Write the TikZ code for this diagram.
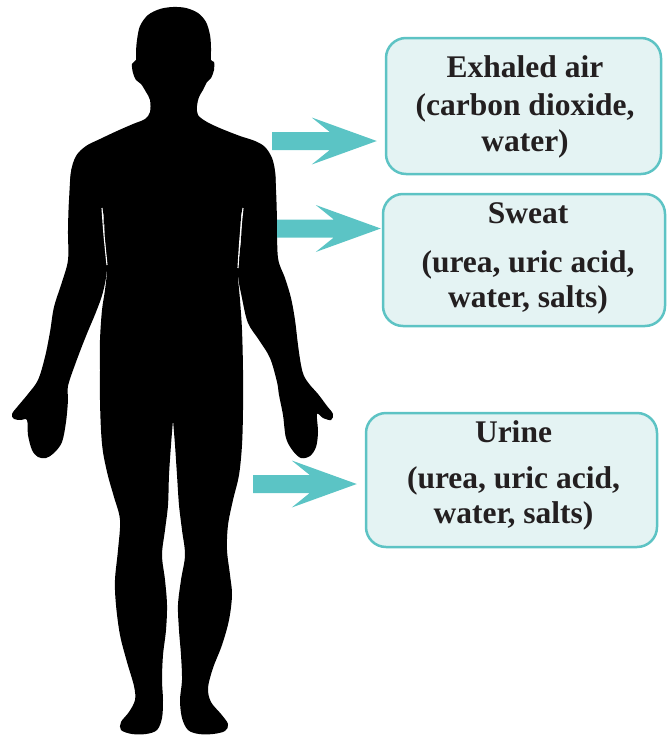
\documentclass[tikz,border=0pt]{standalone}
\usepackage{fontspec}
\setmainfont{Liberation Serif}
\usetikzlibrary{calc}
\definecolor{flowteal}{HTML}{5BC4C5}
\definecolor{boxfill}{HTML}{E4F3F3}
\definecolor{boxline}{HTML}{5DC3C4}
\definecolor{ink}{HTML}{231F20}

% wide flat arrow with swept-back barbs, from #1 to the tip #2
\newcommand\flowarrow[2]{%
  \fill[flow] ($(#1)+(0,-9)$) -- ($(#2)+(-47,-9)$) -- ($(#2)+(-65,-23.5)$)
    -- (#2) -- ($(#2)+(-65,23.5)$) -- ($(#2)+(-47,9)$) -- ($(#1)+(0,9)$) -- cycle;}

\begin{document}
\begin{tikzpicture}[x=1pt,y=-1pt,
  outbox/.style={draw=boxline, line width=2.5pt, fill=boxfill,
    rounded corners=20pt, inner sep=0pt},
  boxtext/.style={text=ink, font=\fontsize{31.5}{38}\selectfont\bfseries,
    anchor=base, inner sep=0pt},
  flow/.style={fill=flowteal},
  body/.style={fill=black},
  gap/.style={draw=white, line width=1.1pt}]
\useasboundingbox (0,0) rectangle (667,736);

% ---------- silhouette: head, shoulders, torso and legs ----------
\fill[body] plot[smooth, tension=0.55] coordinates {
 (173,420) (175,445) (177,475) (179,505) (182,530) (185,555) (181,580)
 (178,605) (179,630) (181,655) (182,680) (180,700) (182,718) (188,730)
 (199,734) (213,734) (225,731) (228,724) (221,714) (211,702) (208,688)
 (213,668) (222,645) (229,620) (232,595) (230,575) (227,550) (228,525)
 (233,500) (239,475) (242,445) (243,410) (243,370) (242,330) (240,300)
 (238,273) (240,240) (243,208) (260,200) (274,190) (275,172) (272,158)
 (265,147) (255,141) (240,136)
 (222,129) (207,122) (198,115) (197,106) (199,97) (203,90) (207,82)
 (211,78) (214,70) (214,62) (211,60) (211,48) (210,35) (206,22) (198,13)
 (186,8) (173,7) (160,9) (148,15) (140,26) (137,40) (136,52) (136,60)
 (132,64) (133,73) (136,80) (141,84) (146,92) (150,100) (150,112)
 (145,119) (133,124) (117,131) (100,139) (86,146) (76,156) (71,172)
 (72,190) (88,200)
 (102,208) (105,240) (107,268) (105,290) (102,310) (100,340) (100,370)
 (100,400) (101,430) (103,452) (108,476) (114,497) (120,520) (118,550)
 (115,580) (116,605) (120,635) (127,662) (134,686) (135,700) (129,712)
 (121,722) (121,730) (132,734) (146,734) (157,730) (162,718) (163,700)
 (162,680) (163,655) (166,630) (167,605) (165,580) (162,555) (165,530)
 (168,505) (169,475) (171,445) (173,420)} -- cycle;

% right arm and hand
\fill[body] plot[smooth cycle, tension=0.55] coordinates {
 (274,168) (276,190) (277,220) (278,258)
 (285,278) (291,298) (295,320) (298,345) (301,365) (304,376) (310,385)
 (318,394) (327,406) (333,414) (331,420) (323,418) (317,414) (318,432)
 (316,447) (310,456) (301,458) (293,451) (286,438) (283,415) (279,395)
 (277,382) (270,358) (259,340) (248,323) (242,298) (238,273) (241,240)
 (243,208) (252,182) (264,170)};

% left arm and hand
\fill[body] plot[smooth cycle, tension=0.55] coordinates {
 (82,170) (72,168) (69,200) (68,230) (68,260) (62,282)
 (54,307) (50,332) (45,357) (38,380) (28,394) (18,406) (12,414) (14,419)
 (21,420) (27,420) (28,435) (32,450) (38,457) (46,458) (54,453) (62,442)
 (66,422) (68,400) (68,386) (76,362) (86,336) (96,312) (103,292) (107,268)
 (105,240) (102,208) (95,182)};

% thin light seams between the arms and the torso
\draw[gap] plot[smooth] coordinates {(102,208) (104,235) (107,265)};
\draw[gap] plot[smooth] coordinates {(243,208) (240,238) (238,268)};

% ---------- output boxes ----------
\node[outbox, minimum width=275pt, minimum height=136pt] (air) at (523.5,106) {};
\node[outbox, minimum width=282pt, minimum height=132pt] (sweat) at (524,260) {};
\node[outbox, minimum width=291pt, minimum height=134pt] (urine) at (511.5,480) {};

\node[boxtext] (air1) at (525,77) {Exhaled air};
\node[boxtext] (air2) at (525,115) {(carbon dioxide,};
\node[boxtext] (air3) at (525,151) {water)};

\node[boxtext] (sweat1) at (528,223) {Sweat};
\node[boxtext] (sweat2) at (528,272) {(urea, uric acid,};
\node[boxtext] (sweat3) at (528,307) {water, salts)};

\node[boxtext] (urine1) at (513.5,442) {Urine};
\node[boxtext] (urine2) at (513.5,488) {(urea, uric acid,};
\node[boxtext] (urine3) at (513.5,523) {water, salts)};

% ---------- arrows from the body to the boxes ----------
\coordinate (a1) at (272,141);
\coordinate (a2) at (277,228.5);
\coordinate (a3) at (253,484);
\coordinate (t1) at ($(a1 -| air.west)+(-8,0)$);
\coordinate (t2) at ($(a2 -| sweat.west)+(-1,0)$);
\coordinate (t3) at ($(a3 -| urine.west)+(-8,0)$);
\flowarrow{a1}{t1}
\flowarrow{a2}{t2}
\flowarrow{a3}{t3}
\end{tikzpicture}
\end{document}
